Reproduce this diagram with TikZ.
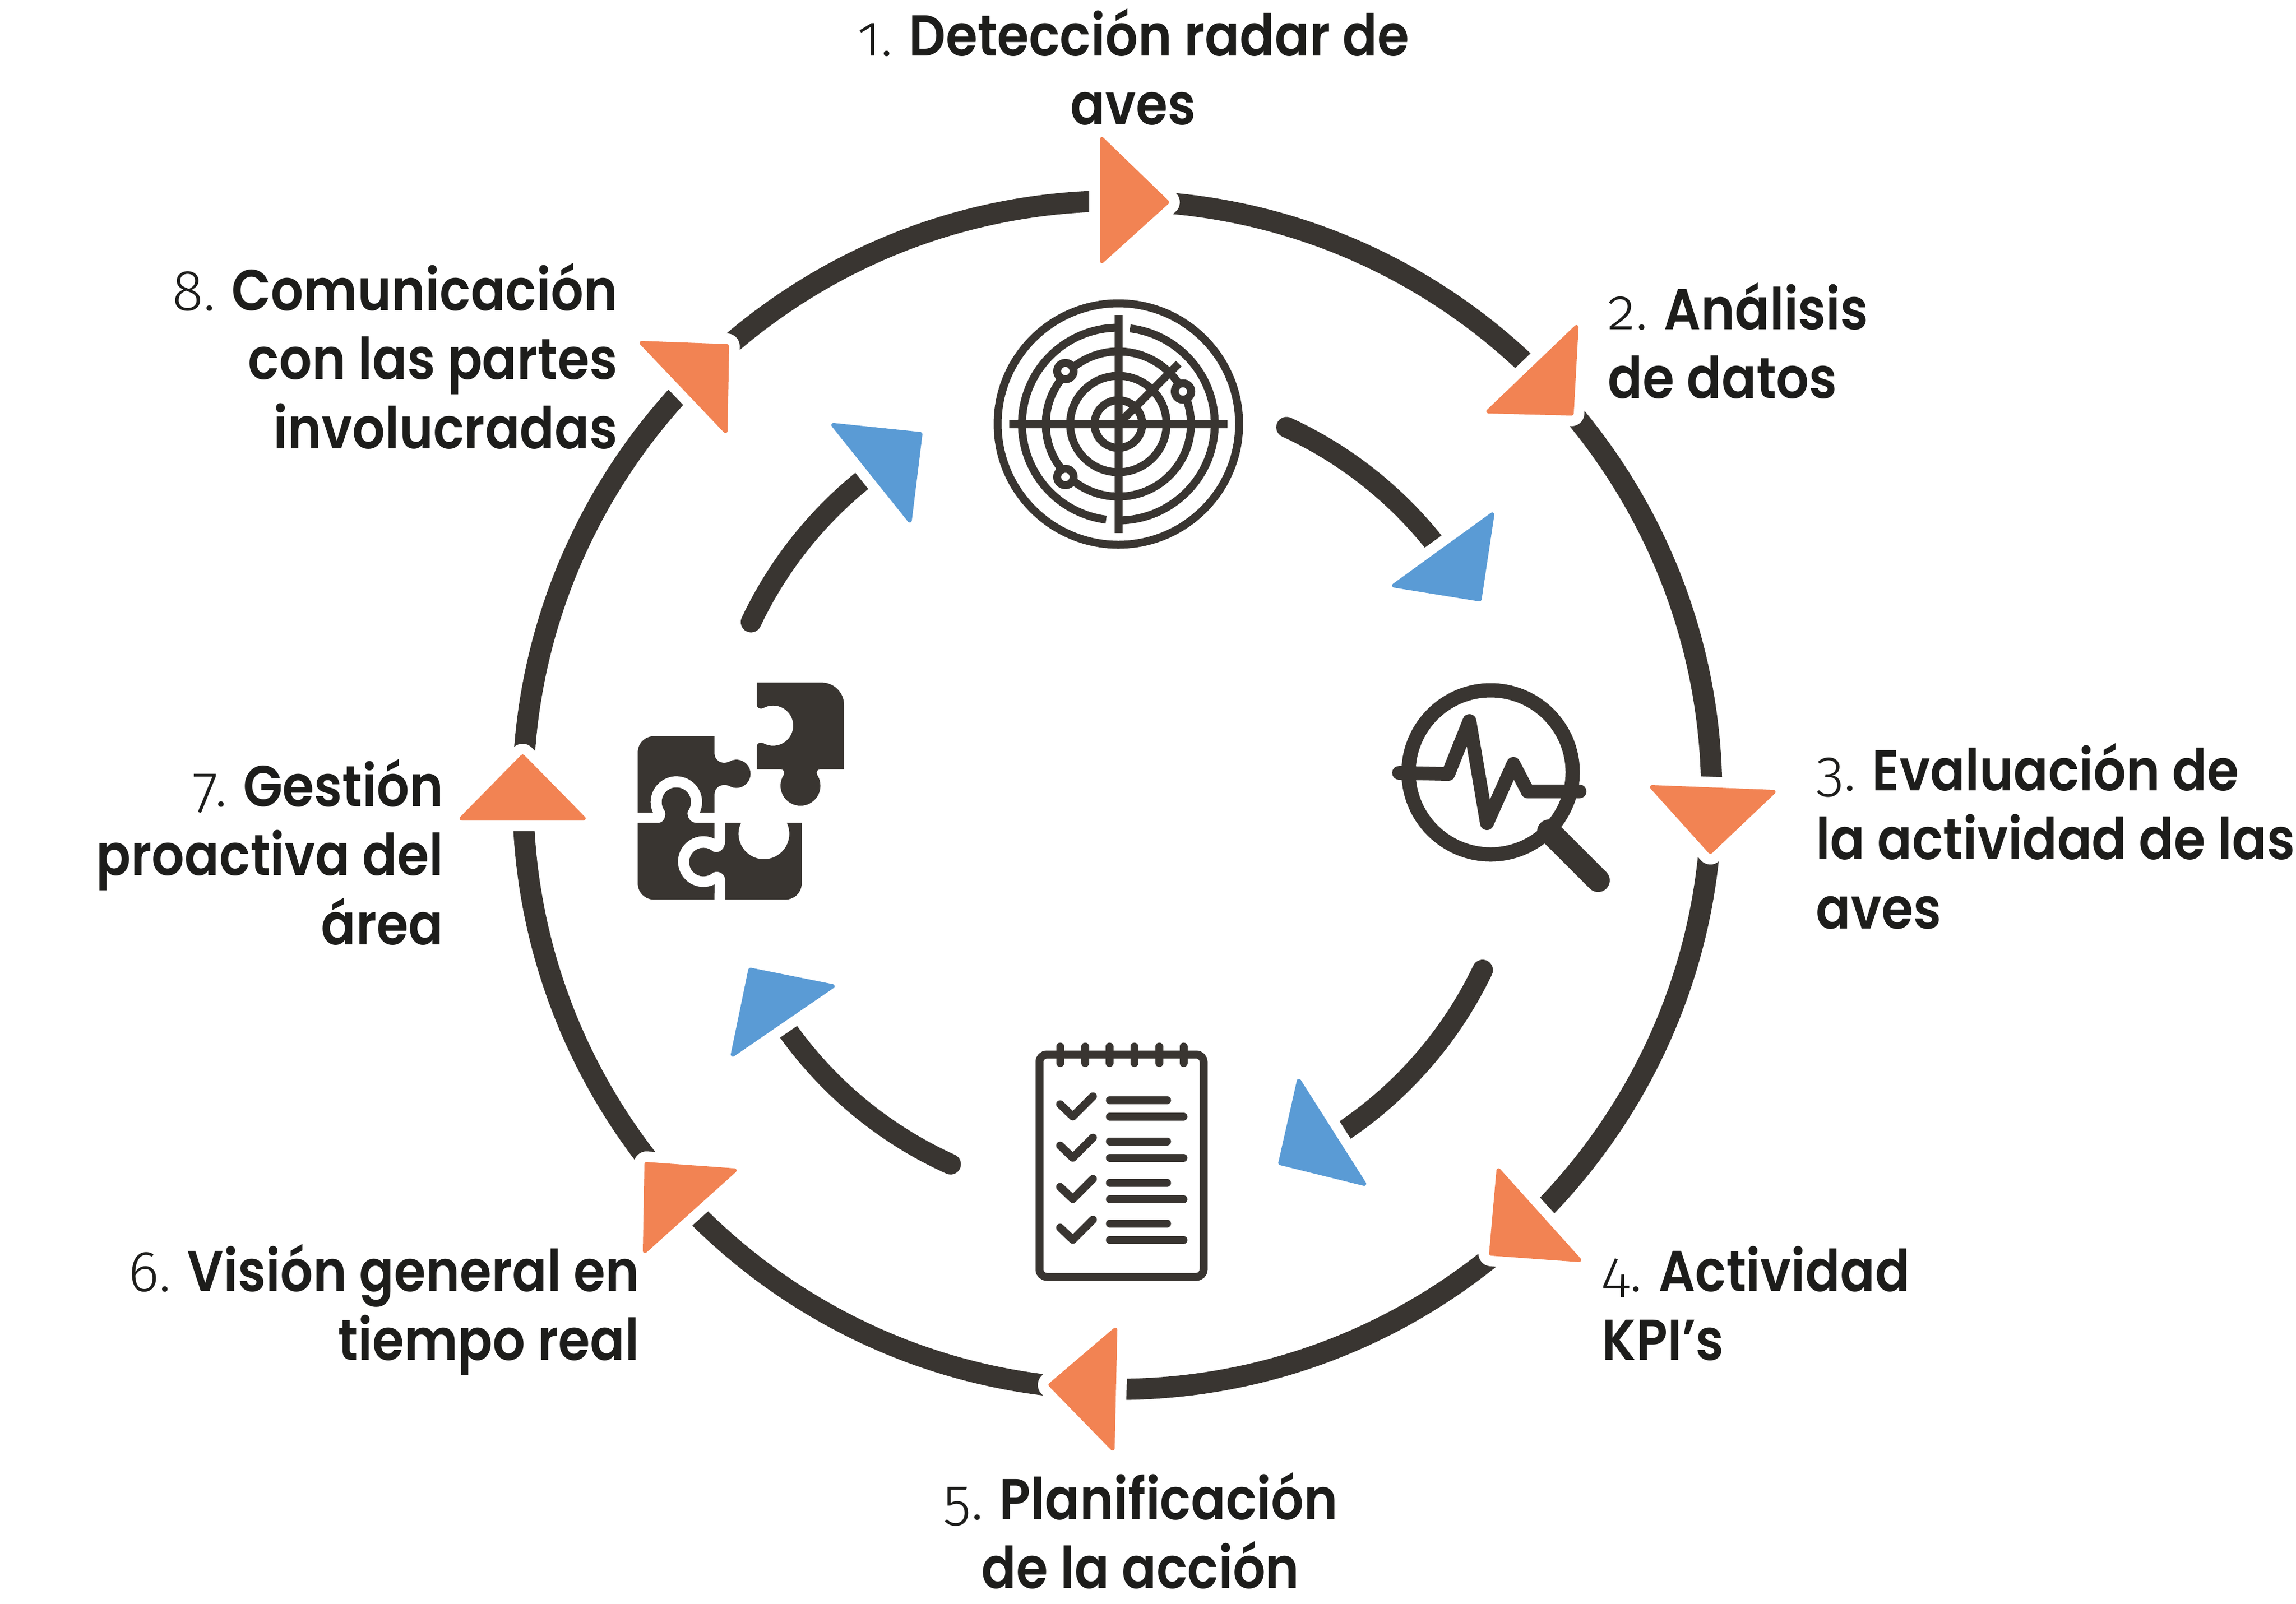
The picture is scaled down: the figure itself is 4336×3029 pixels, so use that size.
\documentclass[tikz,border=0pt]{standalone}
\usepackage{fontspec}
\setmainfont[FakeStretch=0.89]{Poppins SemiBold}
\newfontfamily\numf[Numbers=OldStyle]{Fira Sans Light}
\definecolor{ink}{HTML}{393531}
\definecolor{txt}{HTML}{1D1D1B}
\definecolor{orng}{HTML}{F28353}
\definecolor{blu}{HTML}{5A9BD5}
\newcommand\fl{\rule{0pt}{34pt}}
\newcommand\nm[1]{{\numf #1}}
\tikzset{
  ring/.style={draw=ink,line width=0.4cm},
  inarc/.style={draw=ink,line width=0.39cm,line cap=round},
  halo/.style={draw=white,fill=white,line width=0.48cm,line join=round},
  otri/.style={fill=orng,draw=orng,line width=0.08cm,line join=round},
  btri/.style={fill=blu,draw=blu,line width=0.08cm,line join=round},
  thin/.style={draw=ink,line width=0.15cm},
  rnd/.style={thin,line cap=round,line join=round},
  lab/.style={font=\fontsize{31}{37}\selectfont,text=txt,inner sep=0pt,anchor=north},
}
\newcommand\tri[4]{\path[halo] #2 -- #3 -- #4 -- cycle; \path[#1] #2 -- #3 -- #4 -- cycle;}
\begin{document}
\begin{tikzpicture}[x=0.01cm,y=-0.01cm]
\useasboundingbox (0,0) rectangle (4336,3029);
\coordinate (c) at (2110,1502);
% outer ring and inner arcs
\draw[ring] (c) circle[radius=1122.5];
\draw[inarc] ([shift={(-65.3:765)}]c) arc[start angle=-65.3,end angle=-34,radius=765];
\draw[inarc] ([shift={(25.6:765)}]c) arc[start angle=25.6,end angle=60,radius=765];
\draw[inarc] ([shift={(114.3:765)}]c) arc[start angle=114.3,end angle=148,radius=765];
\draw[inarc] ([shift={(205.3:765)}]c) arc[start angle=205.3,end angle=236,radius=765];
% orange triangles
\tri{otri}{(2081,263)}{(2204,382)}{(2081,493)}
\tri{otri}{(2977,618)}{(2811,777)}{(2968,781)}
\tri{otri}{(3120,1487)}{(3349,1496)}{(3230,1609)}
\tri{otri}{(2830,2211)}{(2982,2380)}{(2816,2368)}
\tri{otri}{(2106,2512)}{(1984,2616)}{(2101,2736)}
\tri{otri}{(1221,2199)}{(1387,2211)}{(1218,2363)}
\tri{otri}{(987,1429)}{(1102,1546)}{(872,1546)}
\tri{otri}{(1212,648)}{(1373,654)}{(1370,814)}
% blue triangles
\tri{btri}{(2818,972)}{(2794,1132)}{(2633,1106)}
\tri{btri}{(2453,2042)}{(2576,2236)}{(2418,2197)}
\tri{btri}{(1417,1832)}{(1572,1863)}{(1384,1992)}
\tri{btri}{(1574,803)}{(1738,820)}{(1718,983)}
% radar icon
\begin{scope}[shift={(2112,801)}]
\draw[thin] (0,0) circle[radius=228];
\draw[thin] (0,0) circle[radius=137];
\draw[thin] (0,0) circle[radius=91];
\draw[thin] (0,0) circle[radius=45];
\draw[thin] (-90:182) arc[start angle=-90,end angle=-262.7,radius=182];
\draw[thin] (90:182) arc[start angle=90,end angle=-83,radius=182];
\draw[thin] (-206,0) -- (206,0);
\draw[thin] (0,-206) -- (0,206);
\draw[thin] (0,0) -- (114,-114);
\draw[thin,fill=white] (-100,-100) circle[radius=15.5];
\draw[thin,fill=white] (-100,100) circle[radius=15.5];
\draw[thin,fill=white] (122,-61.5) circle[radius=15.5];
\end{scope}
% magnifier icon
\draw[draw=ink,line width=0.27cm] (2815,1459) circle[radius=155];
\draw[draw=ink,line width=0.26cm,line cap=round,line join=round] (2642,1460) -- (2735,1462) -- (2775,1362) -- (2808,1555) -- (2858,1443) -- (2885,1495) -- (2983,1495);
\draw[draw=ink,line width=0.44cm,line cap=round] (2925,1570) -- (3018,1663);
% checklist icon
\draw[thin,rounded corners=0.14cm] (1963,1992) rectangle (2273,2412);
\foreach \x in {2002,2049,2095,2142,2189,2235} \draw[rnd] (\x,1977) -- (\x,2008);
\foreach \d in {0,78,156,233}{
  \draw[rnd] (2002,2086+\d) -- (2026,2109+\d) -- (2064,2071+\d);
  \draw[rnd] (2096,2078+\d) -- (2204,2078+\d);
  \draw[rnd] (2096,2109+\d) -- (2235,2109+\d);
}
% puzzle icon
\begin{scope}[shift={(1150,1240)},scale=0.33333,fill=ink]
\fill (838,148) -- (1205,148) arc[start angle=-90,end angle=0,radius=127] -- (1332,640) -- (1195,640)
  .. controls (1180,640) and (1172,655) .. (1180,672) arc[start angle=-32.7,end angle=212.7,radius=113]
  .. controls (998,655) and (990,640) .. (975,640) -- (838,640) -- (838,510)
  .. controls (838,492) and (858,482) .. (875,492) arc[start angle=118.8,end angle=-118.8,radius=114]
  .. controls (858,302) and (838,292) .. (838,274) -- cycle;
\fill (598,452) -- (598,550) .. controls (598,590) and (640,615) .. (680,597)
  arc[start angle=-121.7,end angle=121.7,radius=80]
  .. controls (640,718) and (598,740) .. (598,780) -- (598,885) -- (515,885)
  arc[start angle=24.3,end angle=-204.5,radius=146] -- (163,885) -- (163,544)
  arc[start angle=180,end angle=270,radius=92] -- cycle;
\fill (163,943) -- (280,943) .. controls (305,943) and (325,915) .. (318,878)
  arc[start angle=140.4,end angle=399.6,radius=83]
  .. controls (440,915) and (465,943) .. (495,943) -- (598,943) -- (598,1033)
  arc[start angle=-64.1,end angle=-296.4,radius=144] -- (598,1378) -- (255,1378)
  arc[start angle=90,end angle=180,radius=92] -- cycle;
\fill (658,943) -- (748,943) arc[start angle=205.5,end angle=-25.5,radius=144] -- (1092,943) -- (1092,1286)
  arc[start angle=0,end angle=90,radius=92] -- (658,1378) -- (658,1265)
  .. controls (658,1235) and (625,1210) .. (590,1225)
  arc[start angle=47.5,end angle=312.5,radius=81]
  .. controls (625,1120) and (658,1090) .. (658,1050) -- cycle;
\end{scope}
% labels
\node[lab,align=center] (l1) at (2140,-14.5) {\fl\nm{1.} Detección radar de\\aves};
\node[lab,align=left,anchor=north west] (l2) at (3036,502.5) {\fl\nm{2.} Análisis\\de datos};
\node[lab,align=left,anchor=north west] (l3) at (3429,1373.5) {\fl\nm{3.} Evaluación de\\la actividad de las\\aves};
\node[lab,align=left,anchor=north west] (l4) at (3025,2319.5) {\fl\nm{4.} Actividad\\KPI’s};
\node[lab,align=center] (l5) at (2154,2750.5) {\fl\nm{5.} Planificación\\de la acción};
\node[lab,align=right,anchor=north east] (l6) at (1208,2319.5) {\fl\nm{6.} Visión general en\\tiempo real};
\node[lab,align=right,anchor=north east] (l7) at (838,1403.5) {\fl\nm{7.} Gestión\\proactiva del\\área};
\node[lab,align=right,anchor=north east] (l8) at (1167,466.5) {\fl\nm{8.} Comunicación\\con las partes\\involucradas};
\end{tikzpicture}
\end{document}
